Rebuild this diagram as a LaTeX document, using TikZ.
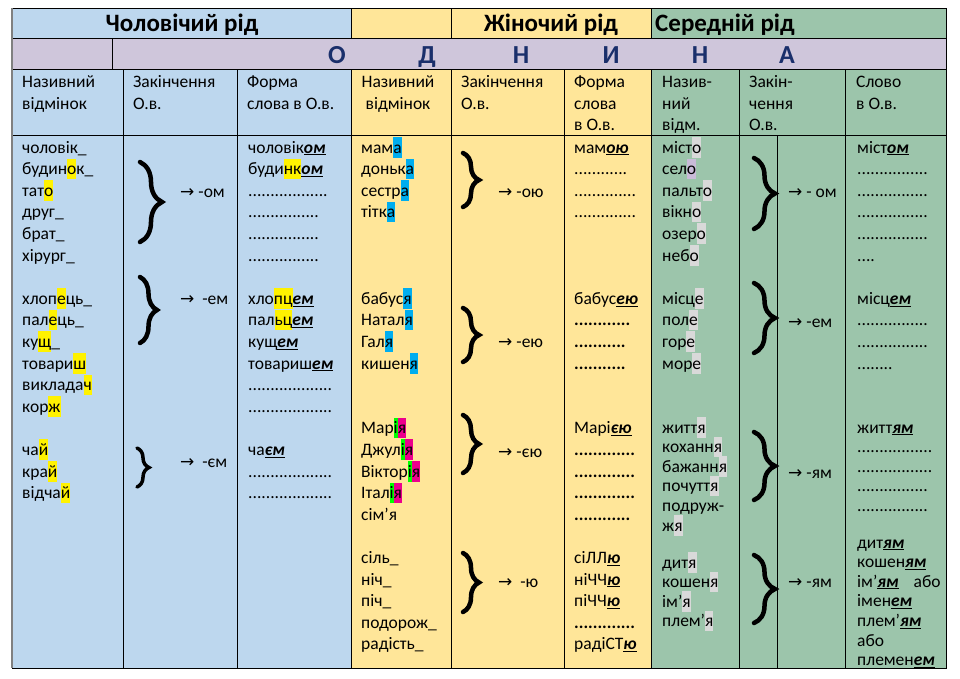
\documentclass[tikz,border=0pt]{standalone}
\usepackage{fontspec}
\setmainfont{Carlito}
\newfontfamily\arrowfont{DejaVu Sans}
\usepackage{xcolor}
\usepackage{tikz}
\usetikzlibrary{decorations.pathreplacing}
\definecolor{masc}{HTML}{BDD7EE}
\definecolor{fem}{HTML}{FFE699}
\definecolor{neut}{HTML}{9CC5AB}
\definecolor{numrow}{HTML}{CFC6DB}
\definecolor{navy}{HTML}{1A2F6B}
\definecolor{hlgray}{HTML}{D9D9D9}
\definecolor{hllav}{HTML}{C9BBD8}
\newcommand{\hl}[2]{{\setlength{\fboxsep}{0pt}\colorbox{#1}{\rule[-4.5pt]{0pt}{20.5pt}#2}}}
\newcommand{\hy}[1]{\hl{yellow}{#1}}
\newcommand{\hc}[1]{\hl{cyan}{#1}}
\newcommand{\hm}[1]{\hl{magenta}{#1}}
\newcommand{\hgr}[1]{\hl{green}{#1}}
\newcommand{\hg}[1]{\hl{hlgray}{#1}}
\newcommand{\hp}[1]{\hl{hllav}{#1}}
\newcommand{\en}[1]{\underline{\textbf{\textit{#1}}}}
\newcommand{\dotline}[1]{\foreach \k in {1,...,#1}{.}}
\newcommand{\arr}{{\arrowfont\fontsize{17}{18}\selectfont →}}
\tikzstyle{word} = [anchor=base west, inner sep=0pt, font=\fontsize{17.5}{21.6}\selectfont]
\tikzstyle{title} = [anchor=base, inner sep=0pt, font=\fontsize{25}{28}\selectfont\bfseries]
\tikzstyle{letter} = [anchor=base, inner sep=0pt, text=navy, font=\fontsize{26}{28}\selectfont\bfseries]
\tikzstyle{grid} = [draw=black, line width=0.8pt]
\tikzstyle{curly} = [decorate, decoration={brace, amplitude=16pt}, line width=4.5pt, line cap=round]

\begin{document}
\begin{tikzpicture}[x=1pt, y=-1pt]
	\useasboundingbox (0,0) rectangle (960,678);

	% backgrounds
	\fill[masc] (12,8) rectangle (351,668);
	\fill[fem] (351,8) rectangle (651,668);
	\fill[neut] (651,8) rectangle (946,668);
	\fill[numrow] (12,38) rectangle (946,69);

	% grid
	\draw[grid] (12,8) rectangle (946,668);
	\draw[grid] (12,38) -- (946,38);
	\draw[grid] (12,69) -- (946,69);
	\draw[grid] (12,135) -- (946,135);
	\foreach \x in {351,451,651}
		\draw[grid] (\x,8) -- (\x,38);
	\draw[grid] (112,38) -- (112,69);
	\foreach \x in {123,237,351,451,564,651,739,845}
		\draw[grid] (\x,69) -- (\x,668);
	\draw[grid] (777,135) -- (777,668);
	\draw[gray, line width=2pt] (12,8) -- (12,668);

	% titles
	\node[title] (masc) at (182,31.5) {Чоловічий рід};
	\node[title] (fem) at (551,31.5) {Жіночий рід};
	\node[title, anchor=base west] (neut) at (655,31.5) {Середній рід};
	\foreach \x/\l [count=\i] in {337/О, 427/Д, 521/Н, 611/И, 700/Н, 787/А}
		\node[letter] (L\i) at (\x,63.5) {\l};

	% column heads
	\foreach \x/\a/\b/\c [count=\i] in {22/Називний/відмінок/, 133/Закінчення/О.в./, 247/Форма/слова в О.в./,
			461/Закінчення/О.в./, 574/Форма/слова/в О.в., 662/Назив-/ний/відм.,
			749/Закін-/чення/О.в., 856/Слово/в О.в./} {
		\node[word] (H\i a) at (\x,87.5) {\a};
		\node[word] (H\i b) at (\x,109.1) {\b};
		\node[word] (H\i c) at (\x,130.7) {\c};
	}
	\node[word, anchor=base] (Hfa) at (398,87.5) {Називний};
	\node[word, anchor=base] (Hfb) at (398,109.1) {відмінок};

	% masculine
	\foreach \w [count=\i from 0] in {чоловік\_, будин\hy{о}к\_, тат\hy{о}, друг\_, брат\_, хірург\_, {},
			хлоп\hy{е}ць\_, пал\hy{е}ць\_, ку\hy{щ}\_, товари\hy{ш}, виклада\hy{ч}, кор\hy{ж}, {},
			ча\hy{й}, кра\hy{й}, відча\hy{й}}
		\node[word] (M1-\i) at (22,{153+21.6*\i}) {\w};
	\foreach \w [count=\i from 0] in {чоловік\en{ом}, буди\hy{нк}\en{ом}, \dotline{18}, \dotline{16}, \dotline{16}, \dotline{16}, {},
			хло\hy{пц}\en{ем}, пал\hy{ьц}\en{ем}, кущ\en{ем}, товариш\en{ем}, \dotline{19}, \dotline{19}, {},
			ча\en{єм}, \dotline{19}, \dotline{19}}
		\node[word] (M3-\i) at (248,{153+21.6*\i}) {\w};
	\draw[curly, decoration={amplitude=22pt}] (140,162) -- (140,242);
	\draw[curly, decoration={amplitude=17pt}] (140,277) -- (140,343);
	\draw[curly, decoration={amplitude=12pt}, line width=3.5pt] (137,448) -- (137,487);
	\node[word] (m1) at (180,197) {\arr\ -ом};
	\node[word] (m2) at (180,304) {\arr\ \ -ем};
	\node[word] (m3) at (180,467) {\arr\ \ -єм};

	% feminine
	\foreach \w [count=\i from 0] in {мам\hc{а}, доньк\hc{а}, сестр\hc{а}, тітк\hc{а}, {}, {}, {},
			бабус\hc{я}, Натал\hc{я}, Гал\hc{я}, кишен\hc{я}, {}, {},
			Мар\hgr{і}\hm{я}, Джул\hgr{і}\hm{я}, Віктор\hgr{і}\hm{я}, Італ\hgr{і}\hm{я}, сім’я, {},
			сіль\_, ніч\_, піч\_, подорож\_, радість\_}
		\node[word] (F1-\i) at (361,{153+21.6*\i}) {\w};
	\foreach \w [count=\i from 0] in {мам\en{ою}, \dotline{12}, \dotline{14}, \dotline{14}, {}, {}, {},
			бабус\en{ею}, \textbf{\dotline{12}}, \textbf{\dotline{11}}, \textbf{\dotline{11}}, {}, {},
			Марі\en{єю}, \textbf{\dotline{13}}, \textbf{\dotline{13}}, \textbf{\dotline{13}}, \textbf{\dotline{12}}, {},
			сіЛЛ\en{ю}, ніЧЧ\en{ю}, піЧЧ\en{ю}, \textbf{\dotline{13}}, радіСТ\en{ю}}
		\node[word] (F3-\i) at (574,{153+21.6*\i}) {\w};
	\draw[curly] (463,153) -- (463,207);
	\draw[curly] (463,308) -- (463,362);
	\draw[curly] (463,415) -- (463,473);
	\draw[curly] (463,553) -- (463,612);
	\node[word] (f1) at (498,197) {\arr\ -ою};
	\node[word] (f2) at (498,347) {\arr\ -ею};
	\node[word] (f3) at (498,457) {\arr\ -єю};
	\node[word] (f4) at (498,587) {\arr\ \ -ю};

	% neuter
	\foreach \w [count=\i from 0] in {міст\hg{о}, сел\hp{о}, пальт\hg{о}, вікн\hg{о}, озер\hg{о}, неб\hg{о}, {},
			місц\hg{е}, пол\hg{е}, гор\hg{е}, мор\hg{е}}
		\node[word] (N1-\i) at (662,{153+21.6*\i}) {\w};
	\foreach \w [count=\i from 0] in {житт\hg{я}, коханн\hg{я}, бажанн\hg{я}, почутт\hg{я}, подруж-, ж\hg{я}}
		\node[word] (N1b-\i) at (662,{433+19.6*\i}) {\w};
	\foreach \w [count=\i from 0] in {дит\hg{я}, кошен\hg{я}, ім’\hg{я}, плем’\hg{я}}
		\node[word] (N1c-\i) at (662,{568+19.6*\i}) {\w};
	\foreach \w [count=\i from 0] in {міст\en{ом}, \dotline{16}, \dotline{16}, \dotline{16}, \dotline{16}, \dotline{4}, {},
			місц\en{ем}, \dotline{16}, \dotline{16}, \dotline{8}}
		\node[word] (N3-\i) at (857,{153+21.6*\i}) {\w};
	\foreach \w [count=\i from 0] in {житт\en{ям}, \dotline{17}, \dotline{17}, \dotline{16}, \dotline{16}}
		\node[word] (N3b-\i) at (857,{433+19.6*\i}) {\w};
	\foreach \w [count=\i from 0] in {дит\en{ям}, кошен\en{ям}, ім’\en{ям}\hspace{15pt}або, імен\en{ем}, плем’\en{ям}, або, племен\en{ем}}
		\node[word] (N3c-\i) at (857,{548+19.6*\i}) {\w};
	\draw[curly, decoration={amplitude=21pt}] (754,158) -- (754,229);
	\draw[curly, decoration={amplitude=21pt}] (754,283) -- (754,353);
	\draw[curly, decoration={amplitude=21pt}] (754,432) -- (754,500);
	\draw[curly, decoration={amplitude=21pt}] (754,555) -- (754,623);
	\node[word] (n1) at (788,197) {\arr\ - ом};
	\node[word] (n2) at (788,327) {\arr\ -ем};
	\node[word] (n3) at (788,478) {\arr\ -ям};
	\node[word] (n4) at (788,587) {\arr\ -ям};
\end{tikzpicture}
\end{document}
